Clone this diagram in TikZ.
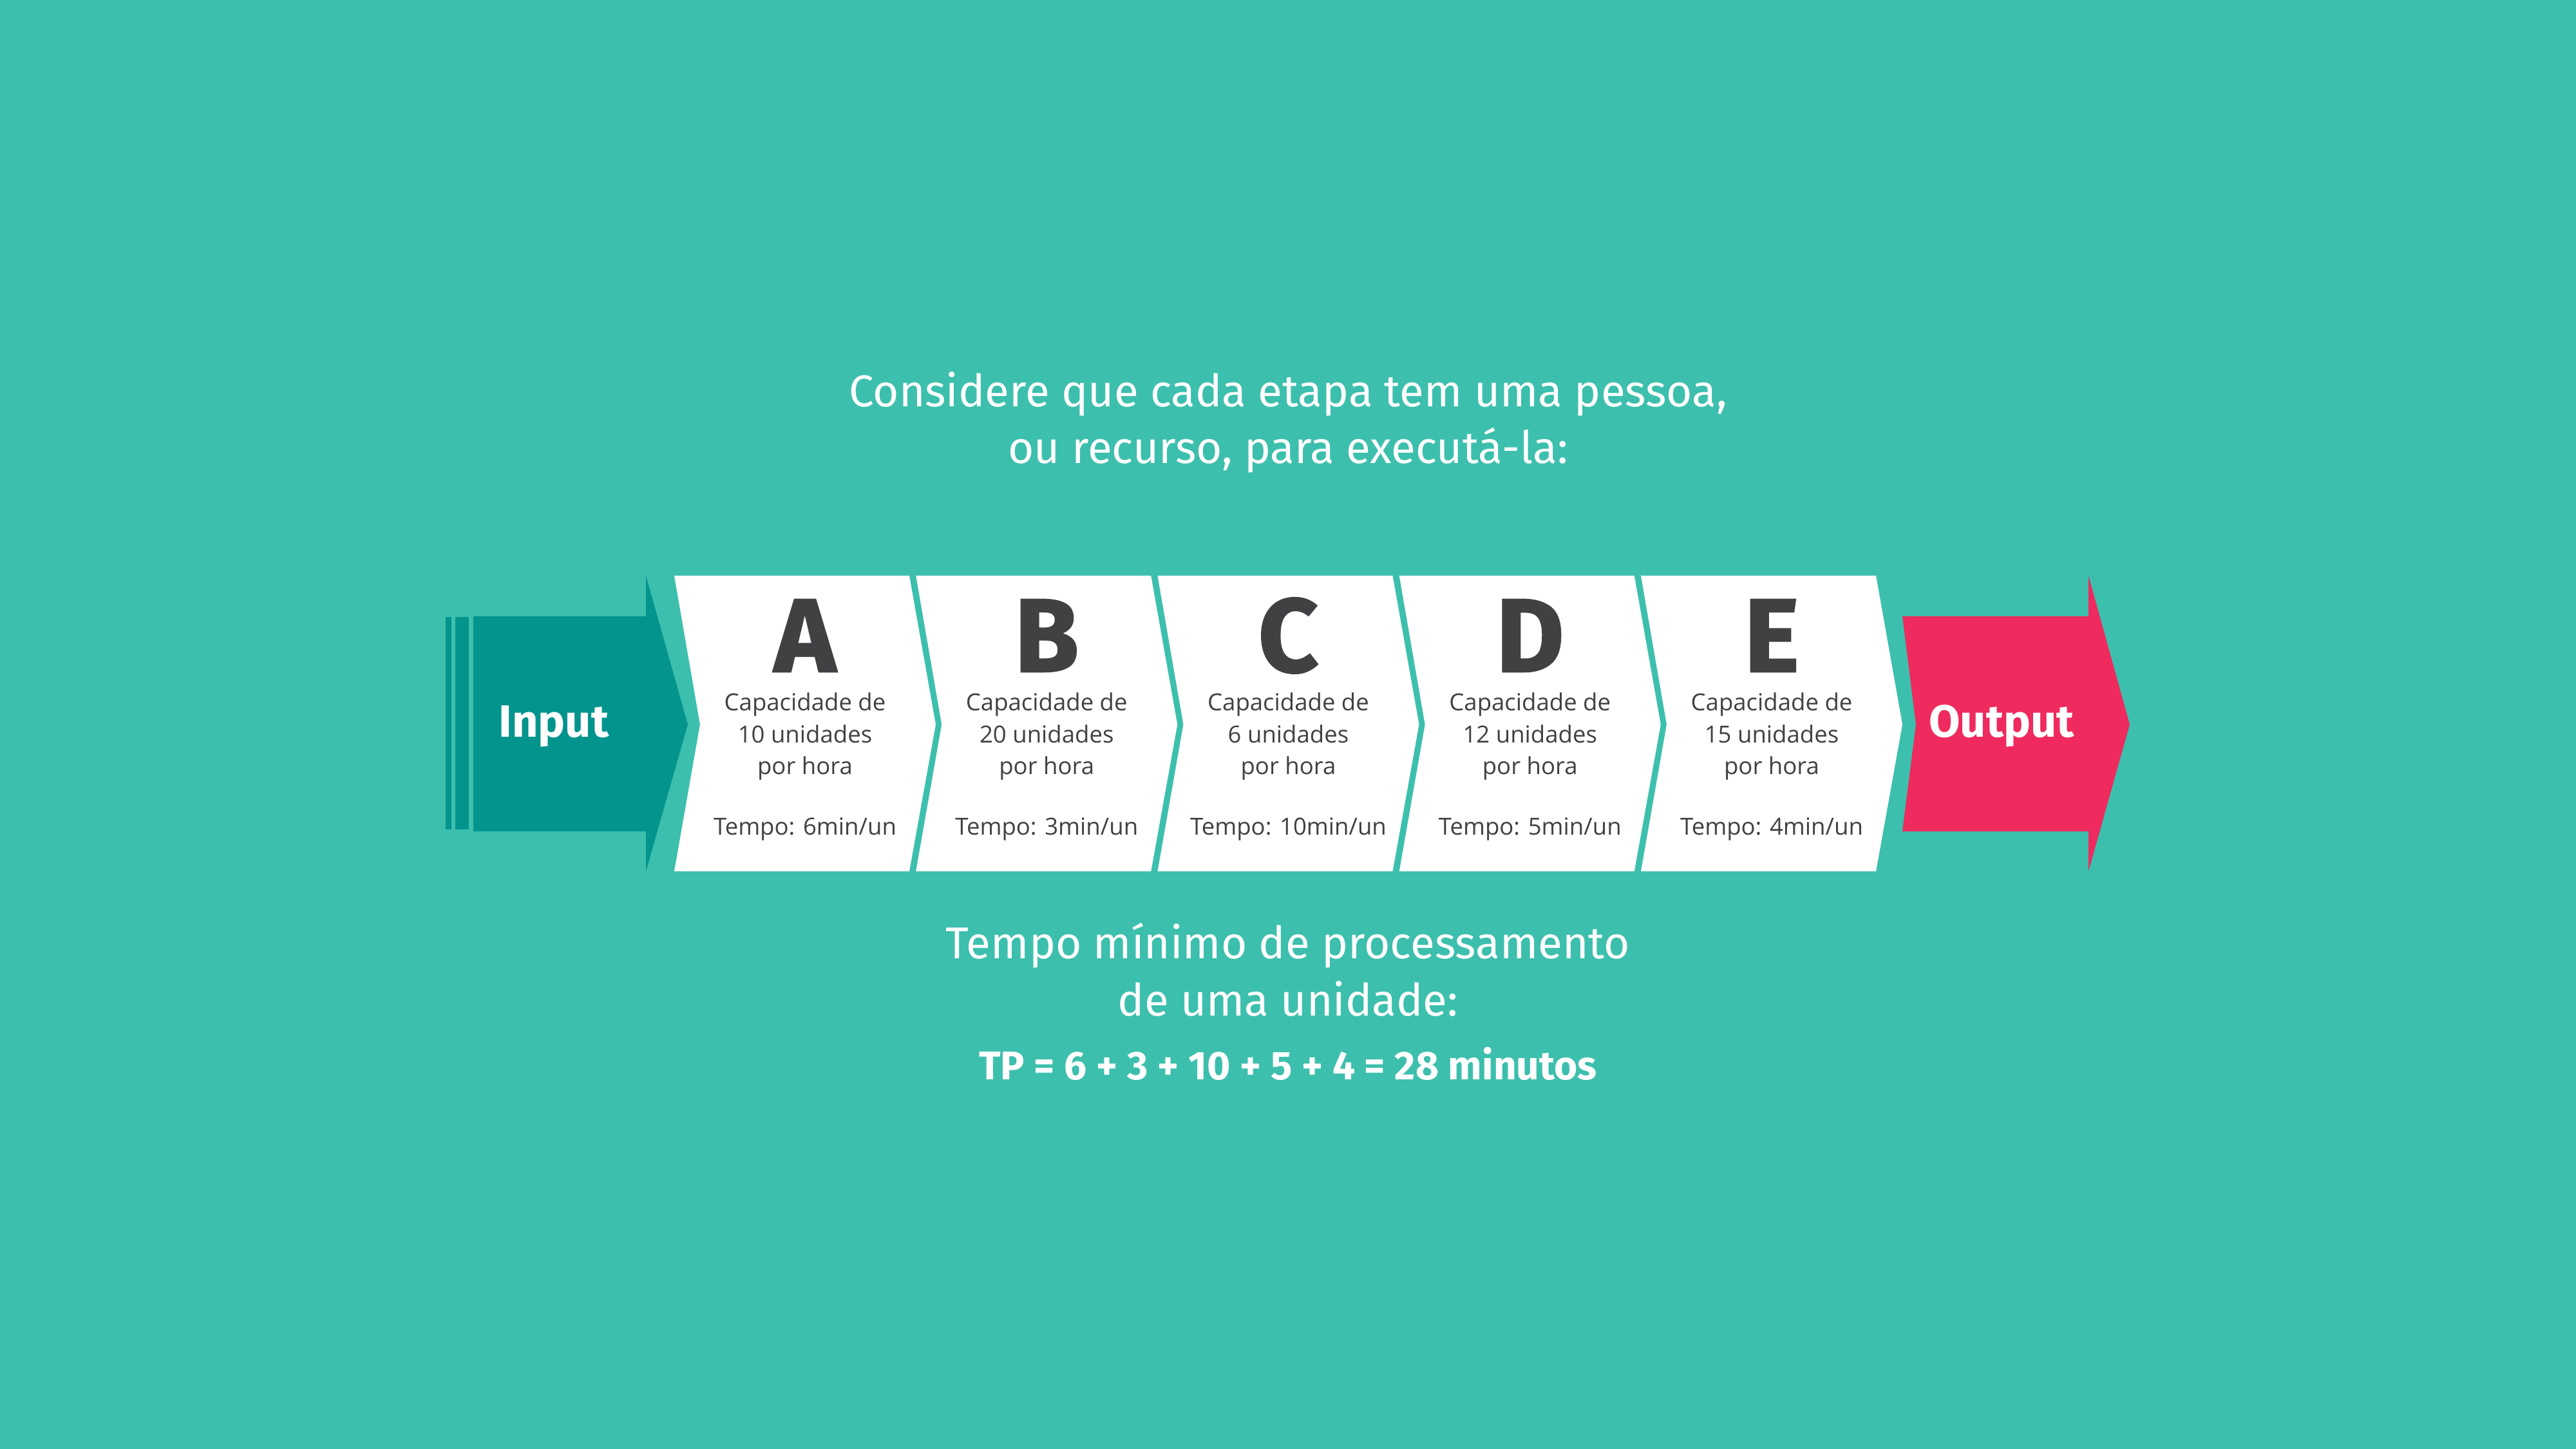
\documentclass[tikz,border=0pt]{standalone}
\usepackage{fontspec}
\setmainfont{Fira Sans}
\newfontfamily\boxfont{Open Sans}
\newfontfamily\heavyfont[BoldFeatures={FakeBold=1.6}]{Fira Sans}
\usetikzlibrary{positioning}

\definecolor{bgteal}{HTML}{3DBFAD}
\definecolor{darkteal}{HTML}{04948E}
\definecolor{outpink}{HTML}{EE2A5E}
\definecolor{inkgray}{HTML}{414042}

\begin{document}
\begin{tikzpicture}[
        title/.style={text=white, align=center, font=\fontsize{19.7}{24}\selectfont},
        letter/.style={text=inkgray, anchor=base, inner sep=0pt, text depth=0pt, font=\heavyfont\bfseries\fontsize{46}{46}\selectfont},
        info/.style={text=inkgray, anchor=base, align=center, inner sep=0pt, font=\boxfont\fontsize{10.4}{14.2}\selectfont},
        flowlabel/.style={text=white, anchor=base, inner sep=0pt, font=\bfseries\fontsize{20}{20}\selectfont}
    ]
    \useasboundingbox (0,0) rectangle (40,22.5);
    \fill[bgteal] (0,0) rectangle (40,22.5);

    % heading
    \node[title, anchor=base] (head1) at (20,16.18) {Considere que cada etapa tem uma pessoa,};
    \node[title, anchor=base] (head2) at (20,15.30) {ou recurso, para executá-la:};

    % input arrow
    \fill[darkteal] (6.92,9.62) rectangle (7.01,12.92);
    \fill[darkteal] (7.07,9.62) rectangle (7.28,12.92);
    \fill[darkteal] (7.35,12.93) -- (10.03,12.93) -- (10.03,13.56) -- (10.68,11.25)
        -- (10.03,8.97) -- (10.03,9.59) -- (7.35,9.59) -- cycle;
    \node[flowlabel] (input) at (8.60,11.05) {Input};

    % stages
    \foreach \lab/\cap/\tempo [count=\i from 0] in {A/10/6, B/20/3, C/6/10, D/12/5, E/15/4} {
        \pgfmathsetmacro{\lx}{10.47+3.7525*\i}
        \pgfmathsetmacro{\cx}{\lx+2.03}
        \fill[white] (\lx,13.56) -- ++(3.65,0) -- ++(0.41,-2.31) -- ++(-0.41,-2.28)
            -- ++(-3.65,0) -- ++(0.40,2.28) -- cycle;
        \node[letter] (let\lab) at (\cx,12.07) {\lab};
        \node[info] (cap\lab) at (\cx,10.47) {Capacidade de\\\cap{} unidades\\por hora};
        \node[info] (time\lab) at (\cx,9.53) {Tempo: \tempo min/un};
    }

    % output arrow
    \fill[outpink] (29.54,12.93) -- (32.43,12.93) -- (32.43,13.56) -- (33.07,11.25)
        -- (32.43,8.97) -- (32.43,9.59) -- (29.54,9.59) -- (29.75,11.25) -- cycle;
    \node[flowlabel] (output) at (31.08,11.05) {Output};

    % result
    \node[title, anchor=base] (res1) at (20,7.61) {Tempo mínimo de processamento};
    \node[title, anchor=base] (res2) at (20,6.72) {de uma unidade:};
    \node[title, anchor=base, font=\bfseries\fontsize{17.7}{22}\selectfont] (res3) at (20,5.73)
        {TP = 6 + 3 + 10 + 5 + 4 = 28 minutos};
\end{tikzpicture}
\end{document}
